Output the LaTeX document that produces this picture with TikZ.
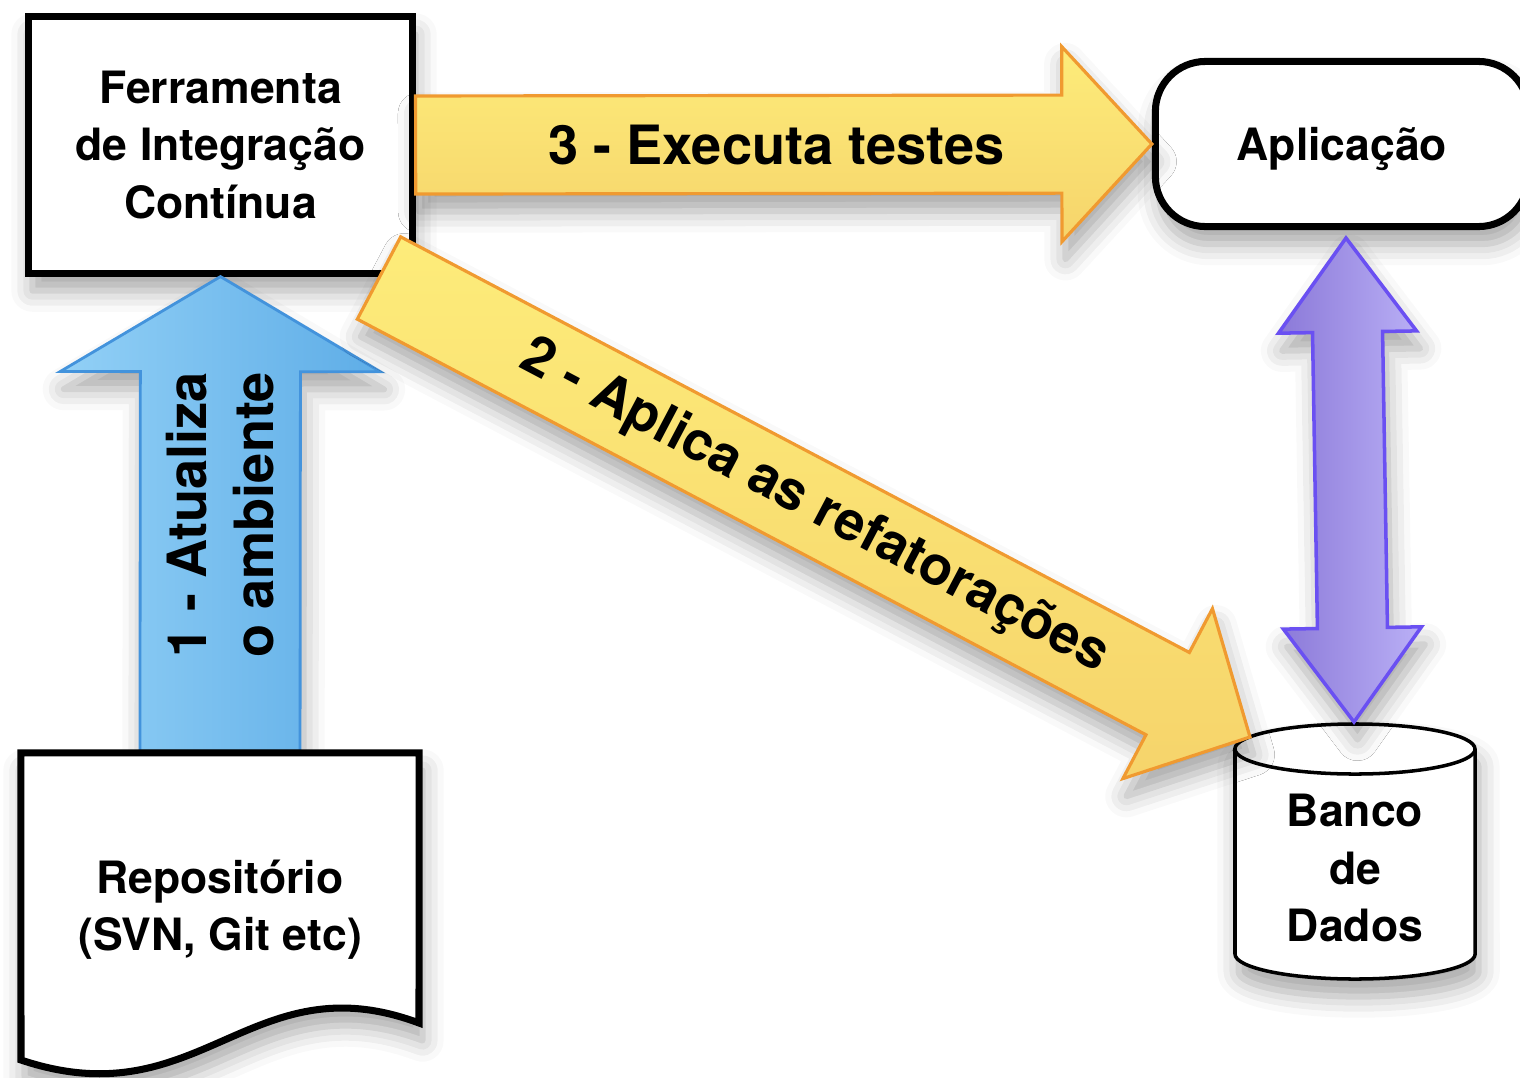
\documentclass[tikz,border=0pt]{standalone}
\usepackage{fontspec}
\setmainfont{TeX Gyre Heros}
\usetikzlibrary{calc,shadows.blur}
\definecolor{yelA}{HTML}{FDEC7A}
\definecolor{yelB}{HTML}{F6D46B}
\definecolor{yelL}{HTML}{F09A30}
\definecolor{bluA}{HTML}{92D0F6}
\definecolor{bluB}{HTML}{5EADE7}
\definecolor{bluL}{HTML}{4393DC}
\definecolor{purA}{HTML}{8B79D8}
\definecolor{purB}{HTML}{BAB0F6}
\definecolor{purL}{HTML}{6A50F2}
\tikzset{
  boxtext/.style={font=\fontsize{12.66}{16.3}\selectfont\bfseries, align=center, inner sep=0pt},
  arrtext/.style={font=\fontsize{15.4}{19.1}\selectfont\bfseries, align=center, inner sep=0pt},
  softshadow/.style={blur shadow={shadow xshift=1pt, shadow yshift=-5pt, shadow blur radius=6pt, shadow opacity=35}},
  boxline/.style={draw=black, line width=2pt, fill=white},
  yellowarrow/.style={draw=yelL, line width=0.9pt, top color=yelA, bottom color=yelB, softshadow},
  bluearrow/.style={draw=bluL, line width=0.8pt, left color=bluA, right color=bluB, softshadow},
  purplearrow/.style={draw=purL, line width=1pt, left color=purA, right color=purB, softshadow},
  blockarrow/.style n args={3}{to path={
    ($(\tikztostart)!#1!90:(\tikztotarget)$)
    -- ($($(\tikztotarget)!#3!(\tikztostart)$)!#1!90:(\tikztotarget)$)
    -- ($($(\tikztotarget)!#3!(\tikztostart)$)!#2!90:(\tikztotarget)$)
    -- (\tikztotarget)
    -- ($($(\tikztotarget)!#3!(\tikztostart)$)!#2!-90:(\tikztotarget)$)
    -- ($($(\tikztotarget)!#3!(\tikztostart)$)!#1!-90:(\tikztotarget)$)
    -- ($(\tikztostart)!#1!-90:(\tikztotarget)$)
    -- cycle}},
  dblarrow/.style n args={3}{to path={
    -- ($($(\tikztostart)!#3!(\tikztotarget)$)!#2!90:(\tikztotarget)$)
    -- ($($(\tikztostart)!#3!(\tikztotarget)$)!#1!90:(\tikztotarget)$)
    -- ($($(\tikztotarget)!#3!(\tikztostart)$)!#1!90:(\tikztotarget)$)
    -- ($($(\tikztotarget)!#3!(\tikztostart)$)!#2!90:(\tikztotarget)$)
    -- (\tikztotarget)
    -- ($($(\tikztotarget)!#3!(\tikztostart)$)!#2!-90:(\tikztotarget)$)
    -- ($($(\tikztotarget)!#3!(\tikztostart)$)!#1!-90:(\tikztotarget)$)
    -- ($($(\tikztostart)!#3!(\tikztotarget)$)!#1!-90:(\tikztotarget)$)
    -- ($($(\tikztostart)!#3!(\tikztotarget)$)!#2!-90:(\tikztotarget)$)
    -- cycle}},
}
\begin{document}
\begin{tikzpicture}[x=0.01cm, y=-0.01cm, line join=miter]
\useasboundingbox (0,0) rectangle (1520,1078);

% Ferramenta
\node[boxtext, boxline, softshadow, minimum width=3.83cm, minimum height=2.56cm] (ferr) at (220.5,145) {Ferramenta\\de Integração\\Contínua};

% Aplicacao
\node[boxtext, boxline, softshadow, rounded corners=0.5cm, minimum width=3.73cm, minimum height=1.65cm, text depth=0pt] (app) at (1342,144) {Aplicação};

% Repositorio frame (invisible placeholder for anchors)
\node[minimum width=3.98cm, minimum height=3.14cm, inner sep=0pt, outer sep=0pt] (repo) at (220,910) {};

% arrows behind the document shape
\draw[yellowarrow] (ferr.east) to[blockarrow={0.49cm}{0.975cm}{0.9cm}] (app.west);
\draw[bluearrow] (repo.north) to[blockarrow={0.8cm}{1.6cm}{0.95cm}] (ferr.south);

% Repositorio (document shape)
\draw[boxline, softshadow] (repo.north west) -- (repo.north east) -- (419,1023)
  .. controls (250,960) and (200,1120) .. (21,1060) -- cycle;
\node[boxtext] (repotext) at (repo.center) {Repositório\\(SVN, Git etc)};

% Banco de dados (cylinder)
\draw[line width=1pt, fill=white, softshadow] (1235,749) -- (1235,954) arc (180:360:1.2cm and 0.25cm)
  -- (1475,749) arc (0:180:1.2cm and 0.25cm) -- cycle;
\draw[line width=1pt] (1235,749) arc (180:360:1.2cm and 0.25cm);
\node[boxtext] (db) at (1355,868) {Banco\\de\\Dados};

% named ends
\coordinate (d0) at (379,278);
\coordinate (dbin) at (1250,737);
\coordinate (pa) at (1346,238);
\coordinate (pb) at (1354,722);

\draw[yellowarrow] (d0) to[blockarrow={0.465cm}{0.96cm}{0.93cm}] (dbin);
\draw[purplearrow] (pa) to[dblarrow={0.35cm}{0.69cm}{0.94cm}] (pb);

% labels
\node[arrtext] (l3) at ($(ferr.east)!0.49!(app.west)$) {3 - Executa testes};
\node[arrtext, rotate=90] (l1) at ($(repo.north)!0.5!(ferr.south)$) {1 - Atualiza\\o ambiente};
\node[arrtext, rotate=-27.8] (l2) at ($(d0)!0.5!(dbin)$) {2 - Aplica as refatorações};
\end{tikzpicture}
\end{document}
